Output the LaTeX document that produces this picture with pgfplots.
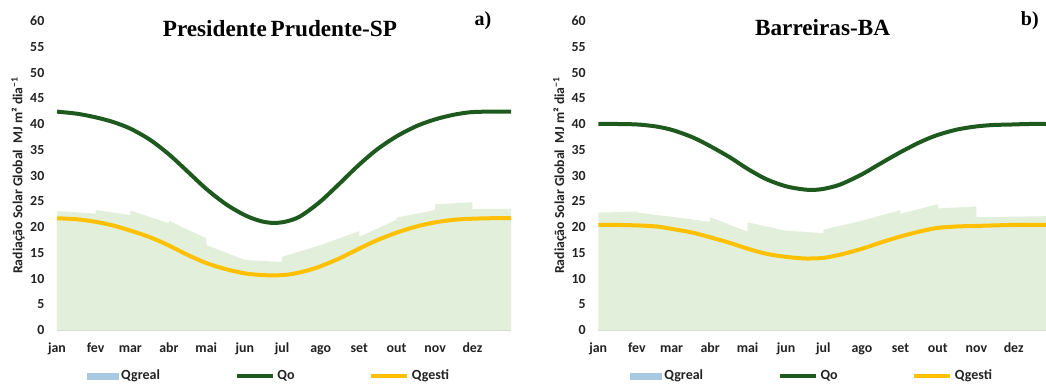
\documentclass[border=0pt]{standalone}
\usepackage{pgfplots}
\pgfplotsset{compat=1.18}
\usepackage{fontspec}
\setmainfont{Carlito}
\newfontfamily\titlefont{Liberation Serif}
\definecolor{areagreen}{HTML}{E2EFDA}
\definecolor{qogreen}{HTML}{1E5A1E}
\definecolor{qgold}{HTML}{FFC000}
\definecolor{legblue}{HTML}{A9C8E2}
\definecolor{txt}{HTML}{222222}

\pgfplotsset{
  panel/.style={
    scale only axis,
    height=231.75pt,
    ymin=0, ymax=60,
    ytick={0,5,...,60},
    xmin=0,
    xtick={0,31,59,90,120,151,181,212,243,273,304,334},
    xticklabels={jan,fev,mar,abr,mai,jun,jul,ago,set,out,nov,dez},
    axis y line*=left,
    axis x line*=bottom,
    y axis line style={draw=none},
    x axis line style={draw=black!15, line width=0.8pt, -},
    major tick length=0pt,
    tick style={draw=none},
    ticklabel style={font=\fontsize{10.4}{12}\selectfont\bfseries, text=txt},
    /pgf/number format/assume math mode=true,
    xticklabel style={anchor=base, yshift=-17pt},
    yticklabel style={xshift=-6pt},
    ylabel={Radiação Solar Global\ \ MJ m² dia\textsuperscript{−1}},
    ylabel style={font=\fontsize{10.3}{12}\selectfont\bfseries, text=txt},
    legend columns=3,
    legend cell align=left,
    legend style={draw=none, fill=none, inner sep=0pt,
      font=\fontsize{10.5}{12}\selectfont\bfseries, text=txt,
      nodes={inner sep=2pt},
      /tikz/every even column/.append style={column sep=54pt}},
    clip=false,
  },
  arealeg/.style={legend image code/.code={\fill[legblue] (0pt,-2.6pt) rectangle (23.5pt,2.6pt);}},
  lineleg/.style={legend image code/.code={\draw[line width=3pt,#1] (0pt,0pt) -- (27pt,0pt);}},
}

\begin{document}
\begin{tikzpicture}
\useasboundingbox (0,0) rectangle (784.5pt,287.25pt);

% ---------- a) Presidente Prudente-SP ----------
\begin{axis}[panel,
  at={(42.75pt,39.75pt)}, anchor=south west,
  width=340.5pt, xmax=365,
  ylabel style={at={(axis description cs:-0.086,0.5)}, anchor=center},
  legend style={at={(axis description cs:0.066,-0.149)}, anchor=west},
]
\addplot[fill=areagreen, draw=none, arealeg] table {
x y
0 23.1
31 22.6
31 23.3
59 22.3
59 23.2
90 20.7
90 21.2
120 17.8
120 16.5
151 13.6
181 13.2
181 14.2
212 16.5
243 19.2
243 18.1
273 21.4
273 21.8
304 23.3
304 24.4
334 24.8
334 23.5
365 23.5
} \closedcycle;
\addlegendentry{Qgreal}
\addplot[qogreen, line width=3pt, smooth, tension=0.5, lineleg=qogreen] table {
x y
0 42.4
16 42.0
31 41.3
45 40.4
59 39.1
75 36.9
90 34.1
104 31.0
120 27.4
136 24.4
151 22.3
163 21.2
173 20.8
183 21.0
195 22.0
211 24.8
227 28.4
242 31.9
257 35.0
273 37.6
289 39.6
304 40.9
319 41.8
333 42.3
348 42.4
365 42.4
};
\addlegendentry{Qo}
\addplot[qgold, line width=3pt, smooth, tension=0.5, lineleg=qgold] table {
x y
0 21.7
16 21.5
31 21.0
45 20.3
59 19.3
75 18.0
90 16.4
104 14.7
120 13.0
136 11.8
151 11.0
163 10.7
175 10.6
187 10.8
199 11.4
211 12.3
227 13.9
242 15.7
257 17.4
273 18.9
289 20.1
304 20.9
319 21.4
333 21.6
348 21.7
365 21.7
};
\addlegendentry{Qgesti}
\node[font=\titlefont\fontsize{17.4}{20}\selectfont\bfseries, anchor=base]
  at (axis description cs:0.491,0.951) {Presidente\,Prudente-SP};
\node[font=\titlefont\fontsize{15}{18}\selectfont\bfseries, anchor=base]
  at (axis description cs:0.938,0.984) {a)};
\end{axis}

% ---------- b) Barreiras-BA ----------
\begin{axis}[panel,
  at={(448.7pt,39.75pt)}, anchor=south west,
  width=335.8pt, xmax=360,
  ylabel style={at={(axis description cs:-0.086,0.5)}, anchor=center},
  legend style={at={(axis description cs:0.071,-0.149)}, anchor=west},
]
\addplot[fill=areagreen, draw=none, arealeg] table {
x y
0 22.8
31 23.0
31 22.8
59 22.0
90 21.0
90 21.9
120 19.1
120 20.9
151 19.3
181 18.8
181 19.5
212 21.2
243 23.3
243 22.6
273 24.4
273 23.6
304 24.0
304 21.9
334 22.0
360 22.1
} \closedcycle;
\addlegendentry{Qgreal}
\addplot[qogreen, line width=3pt, smooth, tension=0.5, lineleg=qogreen] table {
x y
0 40.0
16 40.0
32 39.9
47 39.5
60 38.8
76 37.4
90 35.7
106 33.5
120 31.3
135 29.3
151 27.9
165 27.3
173 27.2
181 27.4
194 28.2
211 30.1
226 32.2
242 34.4
258 36.4
272 37.8
288 38.9
303 39.5
317 39.8
332 39.9
346 40.0
360 40.0
};
\addlegendentry{Qo}
\addplot[qgold, line width=3pt, smooth, tension=0.5, lineleg=qgold] table {
x y
0 20.4
16 20.4
32 20.3
47 20.1
60 19.6
76 18.9
90 18.0
106 16.9
120 15.8
135 14.8
151 14.2
165 13.9
173 13.9
181 14.0
194 14.6
211 15.7
226 16.9
242 18.1
258 19.1
272 19.8
288 20.1
303 20.2
317 20.3
332 20.4
346 20.4
360 20.4
};
\addlegendentry{Qgesti}
\node[font=\titlefont\fontsize{17.4}{20}\selectfont\bfseries, anchor=base]
  at (axis description cs:0.501,0.954) {Barreiras-BA};
\node[font=\titlefont\fontsize{15}{18}\selectfont\bfseries, anchor=base]
  at (axis description cs:0.964,0.987) {b)};
\end{axis}
\end{tikzpicture}
\end{document}
